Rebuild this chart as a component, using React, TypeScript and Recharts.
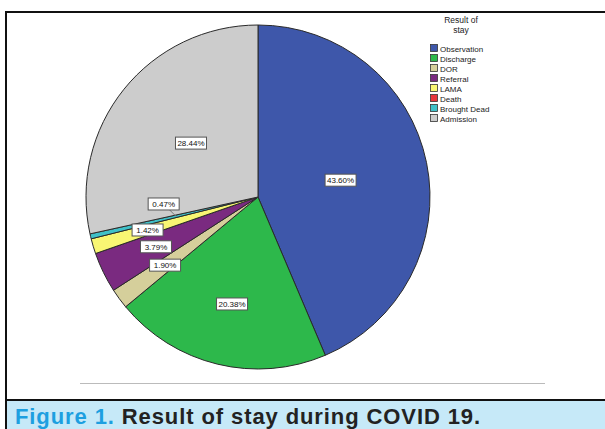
import { PieChart, Pie, Cell, Legend } from 'recharts'

const categories = ['Observation', 'Discharge', 'DOR', 'Referral', 'LAMA', 'Death', 'Brought Dead', 'Admission']
const shares = [43.6, 20.38, 1.9, 3.79, 1.42, 0, 0.47, 28.44]
const colors = ['#3e57aa', '#2db84b', '#d5cf9b', '#7a2a80', '#f8f673', '#e6353c', '#3fc0c8', '#cccccc']

// label placement as fraction of radius, plus angle nudge (deg) for crowded slices
const labelRadius = [0.49, 0.64, 0.67, 0.66, 0.67, 0.6, 0.55, 0.5]
const labelNudge = [0, 0, 0, 0, 0, 0, -9, 0]

const data = categories.map((name, i) => ({ name, value: shares[i] }))

const RADIAN = Math.PI / 180
const FONT = 'Arial, "Liberation Sans", sans-serif'

const renderLabel = (props: any) => {
  const { cx, cy, midAngle, outerRadius, index, value } = props
  if (!value) return null
  const ang = (midAngle + labelNudge[index]) * RADIAN
  const r = outerRadius * labelRadius[index]
  const x = cx + r * Math.cos(-ang)
  const y = cy + r * Math.sin(-ang)
  const w = 31
  const h = 12
  let leader = null
  if (labelNudge[index] !== 0) {
    const a2 = midAngle * RADIAN
    const r2 = outerRadius * 0.49
    leader = (
      <line x1={x + 6} y1={y + h / 2} x2={cx + r2 * Math.cos(-a2)} y2={cy + r2 * Math.sin(-a2)} stroke="#777" strokeWidth={1} />
    )
  }
  return (
    <g>
      {leader}
      <rect x={x - w / 2} y={y - h / 2} width={w} height={h} fill="#fff" stroke="#555" strokeWidth={1} />
      <text x={x} y={y + 3} textAnchor="middle" fontSize={8} fontFamily={FONT} fill="#111">
        {value.toFixed(2)}%
      </text>
    </g>
  )
}

const renderLegend = () => (
  <svg width={110} height={120}>
    <text x={32} y={9} textAnchor="middle" fontSize={8.5} fontFamily={FONT} fill="#222">Result of</text>
    <text x={32} y={19} textAnchor="middle" fontSize={8.5} fontFamily={FONT} fill="#222">stay</text>
    {categories.map((c, i) => (
      <g key={c}>
        <rect x={1.5} y={30.5 + i * 10} width={7} height={7} fill={colors[i]} stroke="#333" strokeWidth={0.8} />
        <text x={11} y={37.5 + i * 10} fontSize={8} fontFamily={FONT} fill="#222">{c}</text>
      </g>
    ))}
  </svg>
)

export default function App() {
  return (
    <div style={{ position: 'absolute', left: 0, top: 0, width: 605, height: 429, background: '#fff', overflow: 'hidden' }}>
      <div style={{ position: 'absolute', left: 5, top: 11, width: 620, height: 392, border: '2.5px solid #111', boxSizing: 'border-box' }} />
      <div style={{ position: 'absolute', left: 80, top: 383, width: 465, height: 1, background: '#bbb' }} />
      <PieChart width={560} height={395} style={{ position: 'absolute', left: 0, top: 0 }}>
        <Pie
          data={data}
          dataKey="value"
          nameKey="name"
          cx={253}
          cy={192}
          outerRadius={172}
          startAngle={90}
          endAngle={-270}
          stroke="#2a2a2a"
          strokeWidth={1}
          label={renderLabel}
          labelLine={false}
          isAnimationActive={false}
        >
          {data.map((d, i) => (
            <Cell key={d.name} fill={colors[i]} />
          ))}
        </Pie>
        <Legend
          layout="vertical"
          content={renderLegend}
          wrapperStyle={{ position: 'absolute', left: 429, top: 14, width: 110 }}
        />
      </PieChart>
      <div
        style={{
          position: 'absolute',
          left: 5,
          top: 399,
          width: 620,
          height: 40,
          background: '#c6e9f8',
          borderTop: '2.5px solid #111',
          borderLeft: '2.5px solid #111',
          boxSizing: 'border-box',
        }}
      >
        <div
          style={{
            position: 'absolute',
            left: 8,
            top: 3,
            fontFamily: 'Arial, "Liberation Sans", sans-serif',
            fontWeight: 'bold',
            fontSize: 22,
            lineHeight: '26px',
            letterSpacing: 0.9,
            color: '#222',
            whiteSpace: 'nowrap',
          }}
        >
          <span style={{ color: '#1d9fe0' }}>Figure 1.</span> Result of stay during COVID 19.
        </div>
      </div>
    </div>
  )
}
